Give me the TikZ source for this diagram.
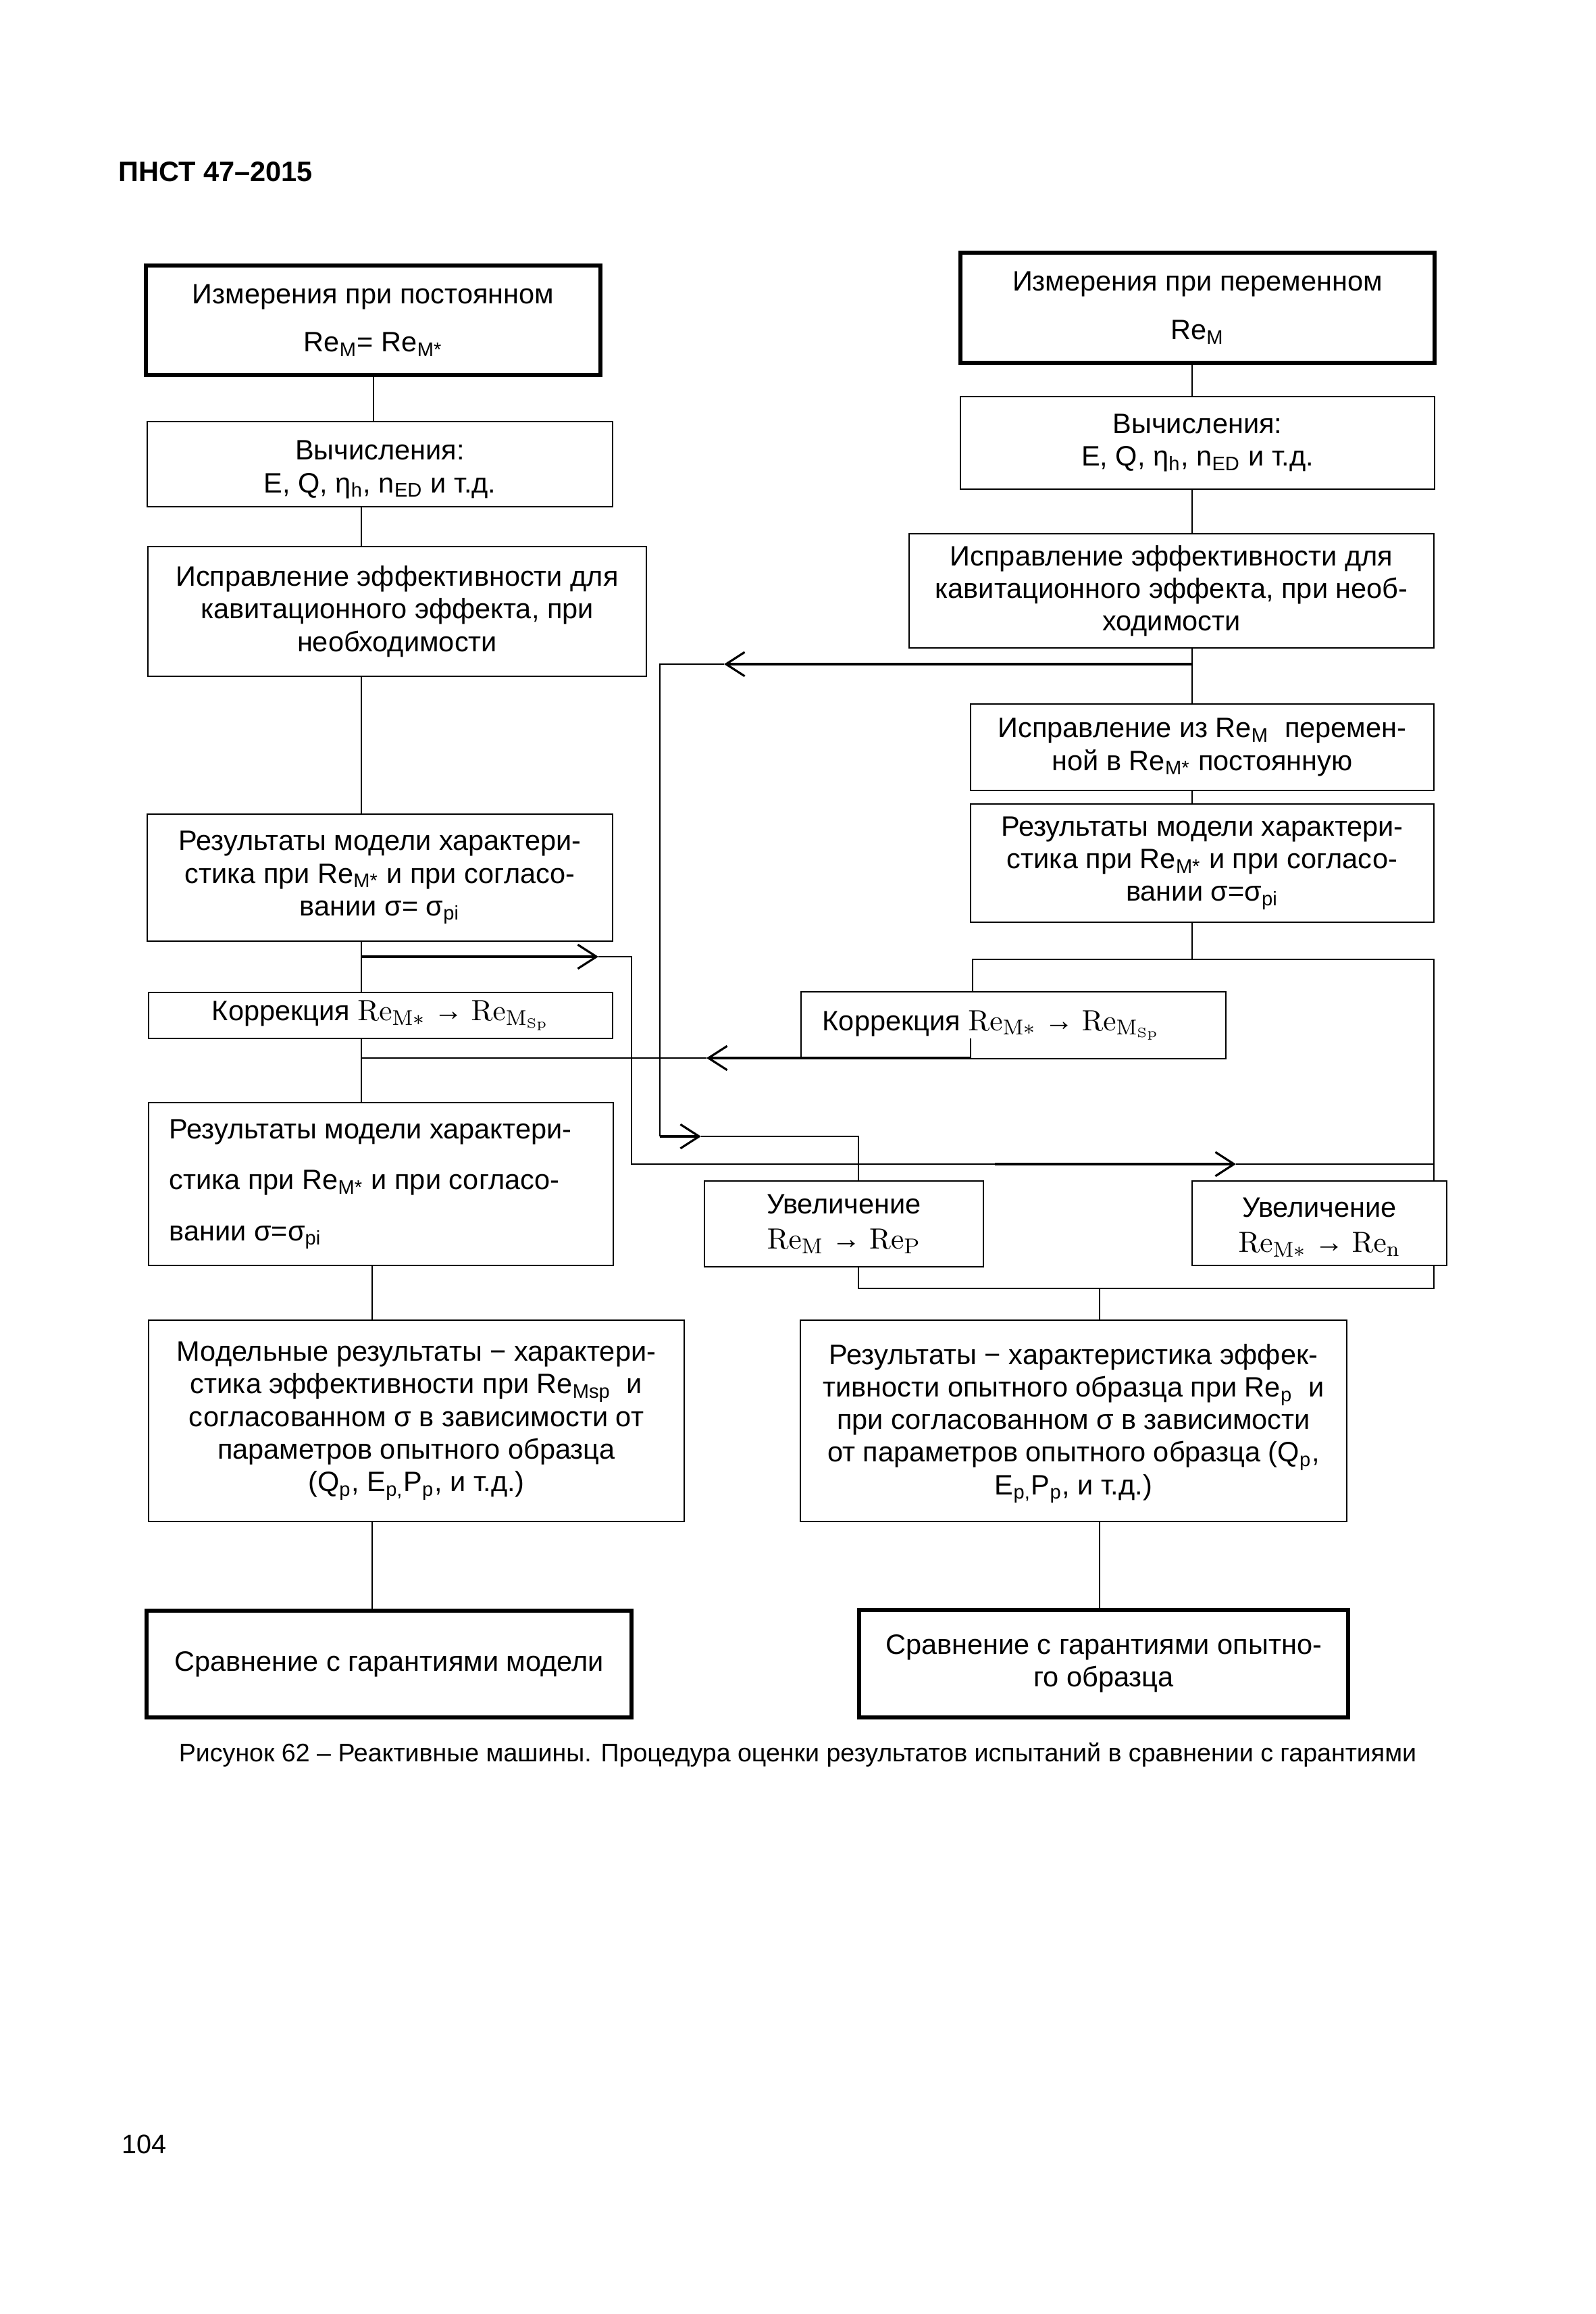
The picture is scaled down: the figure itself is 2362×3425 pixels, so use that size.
\documentclass[tikz,border=0pt]{standalone}
\usepackage[no-math]{fontspec}
\setmainfont{Liberation Sans}
\newfontfamily\lsf{Liberation Serif}
\usetikzlibrary{arrows.meta,fit}
\newcommand\bxf{\fontsize{10.5pt}{12.2pt}\selectfont}
\newcommand\arw{\mathrel{\mbox{\lsf →}}}
\newcommand\fml[1]{{\fontsize{11pt}{12.2pt}\selectfont$#1$}}
\begin{document}
\begin{tikzpicture}[x=0.0889mm,y=-0.0889mm,
  box/.style={draw, line width=0.55pt, inner sep=0pt},
  tbox/.style={box, line width=1.35pt},
  txt/.style={font=\bxf, align=center, inner sep=0pt},
  ln/.style={line width=0.55pt},
  arr/.style={line width=1pt, -{Straight Barb[length=7pt,width=9pt,line width=0.8pt]}},
]
\fill[white] (0,0) rectangle (2362,3425);
\useasboundingbox (0,0) rectangle (2362,3425);

% header, caption, page number
\node[anchor=base west, font=\bfseries\fontsize{10.5pt}{12pt}\selectfont, inner sep=0pt] (hdr) at (175,268) {ПНСТ 47–2015};
\node[font=\fontsize{9.5pt}{12pt}\selectfont, inner sep=0pt] (cap) at (1181,2597) {Рисунок 62 – Реактивные машины. Процедура оценки результатов испытаний в сравнении с гарантиями};
\node[anchor=base west, font=\fontsize{10pt}{12pt}\selectfont, inner sep=0pt] (pg) at (180,3187) {104};

% left column boxes
\node[tbox, fit={(216,393)(889,555)}] (A) {};
\node[box, fit={(218,624)(907,750)}] (B) {};
\node[box, fit={(219,809)(957,1001)}] (C) {};
\node[box, fit={(218,1205)(907,1393)}] (D) {};
\node[box, fit={(220,1469)(907,1537)}] (F) {};
\node[box, fit={(220,1632)(908,1873)}] (G) {};
\node[box, fit={(220,1954)(1013,2252)}] (H) {};
\node[tbox, fit={(217,2384)(935,2542)}] (I) {};

% left column texts
\node[txt] (At) at (A.center) {Измерения при постоянном\\[5.9pt] Re\textsubscript{M}= Re\textsubscript{M*}};
\node[txt] (Bt) at ([yshift=-2pt]B.center) {Вычисления:\\ E, Q, η\textsubscript{h}, n\textsubscript{ED} и т.д.};
\node[txt] (Ct) at (C.center) {Исправление эффективности для\\ кавитационного эффекта, при\\ необходимости};
\node[txt] (Dt) at (D.center) {Результаты модели характери-\\ стика при Re\textsubscript{M*} и при согласо-\\ вании σ= σ\textsubscript{pi}};
\node[txt] (Ft) at (F.center) {Коррекция \fml{\mathrm{Re}_{\mathrm{M}*}\arw\mathrm{Re}_{\mathrm{M}_{\mathrm{Sp}}}}};
\node[txt, align=left, anchor=west] (Gt) at ([xshift=31*0.0889mm]G.west) {Результаты модели характери-\\[6.9pt] стика при Re\textsubscript{M*} и при согласо-\\[6.9pt] вании σ=σ\textsubscript{pi}};
\node[txt] (Ht) at (H.center) {Модельные результаты − характери-\\ стика эффективности при Re\textsubscript{Msp}\ \ и\\ согласованном σ в зависимости от\\ параметров опытного образца\\ (Q\textsubscript{p}, E\textsubscript{p,}P\textsubscript{p}, и т.д.)};
\node[txt] (It) at (I.center) {Сравнение с гарантиями модели};

% right column boxes
\node[tbox, fit={(1422,374)(2124,537)}] (RA) {};
\node[box, fit={(1422,587)(2124,724)}] (RB) {};
\node[box, fit={(1346,790)(2123,959)}] (RC) {};
\node[box, fit={(1437,1042)(2123,1170)}] (RD) {};
\node[box, fit={(1437,1190)(2123,1365)}] (RE) {};
\node[box, fit={(1186,1468)(1815,1567)}] (RF) {};
\node[box, fit={(1043,1748)(1456,1875)}] (UL) {};
\node[box, fit={(1765,1748)(2142,1873)}] (UR) {};
\node[box, fit={(1185,1954)(1994,2252)}] (RH) {};
\node[tbox, fit={(1272,2383)(1996,2542)}] (RI) {};

% right column texts
\node[txt] (RAt) at (RA.center) {Измерения при переменном\\[6.2pt] Re\textsubscript{M}};
\node[txt] (RBt) at (RB.center) {Вычисления:\\ E, Q, η\textsubscript{h}, n\textsubscript{ED} и т.д.};
\node[txt] (RCt) at (RC.center) {Исправление эффективности для\\ кавитационного эффекта, при необ-\\ ходимости};
\node[txt] (RDt) at (RD.center) {Исправление из Re\textsubscript{M}\ \ перемен-\\ ной в Re\textsubscript{M*} постоянную};
\node[txt] (REt) at (RE.center) {Результаты модели характери-\\ стика при Re\textsubscript{M*} и при согласо-\\ вании σ=σ\textsubscript{pi}};
\node[txt, anchor=west] (RFt) at ([xshift=32*0.0889mm]RF.west) {Коррекция \fml{\mathrm{Re}_{\mathrm{M}*}\arw\mathrm{Re}_{\mathrm{M}_{\mathrm{Sp}}}}};
\node[txt] (ULt) at (UL.center) {Увеличение\\[1pt] \fml{\mathrm{Re}_{\mathrm{M}}\arw\mathrm{Re}_{\mathrm{P}}}};
\node[txt] (URt) at ([yshift=-1.5pt]UR.center) {Увеличение\\[1pt] \fml{\mathrm{Re}_{\mathrm{M}*}\arw\mathrm{Re}_{\mathrm{n}}}};
\node[txt] (RHt) at ([yshift=-1pt]RH.center) {Результаты − характеристика эффек-\\ тивности опытного образца при Re\textsubscript{p}\ \ и\\ при согласованном σ в зависимости\\ от параметров опытного образца (Q\textsubscript{p},\\ E\textsubscript{p,}P\textsubscript{p}, и т.д.)};
\node[txt] (RIt) at (RI.center) {Сравнение с гарантиями опытно-\\ го образца};

% column x positions
\coordinate (xA) at (553,0);
\coordinate (xL) at (535,0);
\coordinate (xL2) at (551,0);
\coordinate (xR) at (1765,0);

% left column connectors
\draw[ln] (A.south -| xA) -- (B.north -| xA);
\draw[ln] (B.south -| xL) -- (C.north -| xL);
\draw[ln] (C.south -| xL) -- (D.north -| xL);
\draw[ln] (D.south -| xL) -- (F.north -| xL);
\draw[ln] (F.south -| xL) -- (G.north -| xL);
\draw[ln] (G.south -| xL2) -- (H.north -| xL2);
\draw[ln] (H.south -| xL2) -- (I.north -| xL2);

% right column connectors
\draw[ln] (RA.south -| xR) -- (RB.north -| xR);
\draw[ln] (RB.south -| xR) -- (RC.north -| xR);
\draw[ln] (RC.south -| xR) -- (RD.north -| xR);
\draw[ln] (RD.south -| xR) -- (RE.north -| xR);
\coordinate (k1) at (1765,1420);
\coordinate (k2) at (1440,1420);
\coordinate (k3) at (2123,1420);
\draw[ln] (RE.south -| xR) -- (k1);
\draw[ln] (RF.north -| k2) -- (k2) -- (k3) -- (UR.north -| k3);

% arrow 1: from right column to left, down to UL
\coordinate (p1) at (1765,983);
\coordinate (t1) at (1072,983);
\coordinate (c1) at (977,983);
\coordinate (c2) at (977,1682);
\coordinate (t2) at (1038,1682);
\coordinate (c3) at (1271,1682);
\draw[arr] (p1) -- (t1);
\draw[ln] (t1) -- (c1) -- (c2);
\draw[arr] (c2) -- (t2);
\draw[ln] (t2) -- (c3) -- (UL.north -| c3);

% arrow 2: from left column to right, to UR
\coordinate (p2) at (535,1416);
\coordinate (t3) at (886,1416);
\coordinate (c4) at (935,1416);
\coordinate (c5) at (935,1723);
\coordinate (p3) at (1473,1723);
\coordinate (t4) at (1830,1723);
\coordinate (c6) at (2123,1723);
\draw[arr] (p2) -- (t3);
\draw[ln] (t3) -- (c4) -- (c5) -- (p3);
\draw[arr] (p3) -- (t4);
\draw[ln] (t4) -- (c6);

% arrow 3: from right correction to left column
\coordinate (s1) at (1437,1537);
\coordinate (s2) at (1437,1566);
\coordinate (t5) at (1046,1566);
\coordinate (e5) at (535,1566);
\draw[ln] (s1) -- (s2);
\draw[arr] (s2) -- (t5);
\draw[ln] (t5) -- (e5);

% bottom right connectors
\coordinate (b1) at (1271,1907);
\coordinate (b2) at (2123,1907);
\coordinate (b3) at (1628,1907);
\draw[ln] (UL.south -| b1) -- (b1) -- (b2) -- (UR.south -| b2);
\draw[ln] (b3) -- (RH.north -| b3);
\draw[ln] (RH.south -| b3) -- (RI.north -| b3);
\end{tikzpicture}
\end{document}
